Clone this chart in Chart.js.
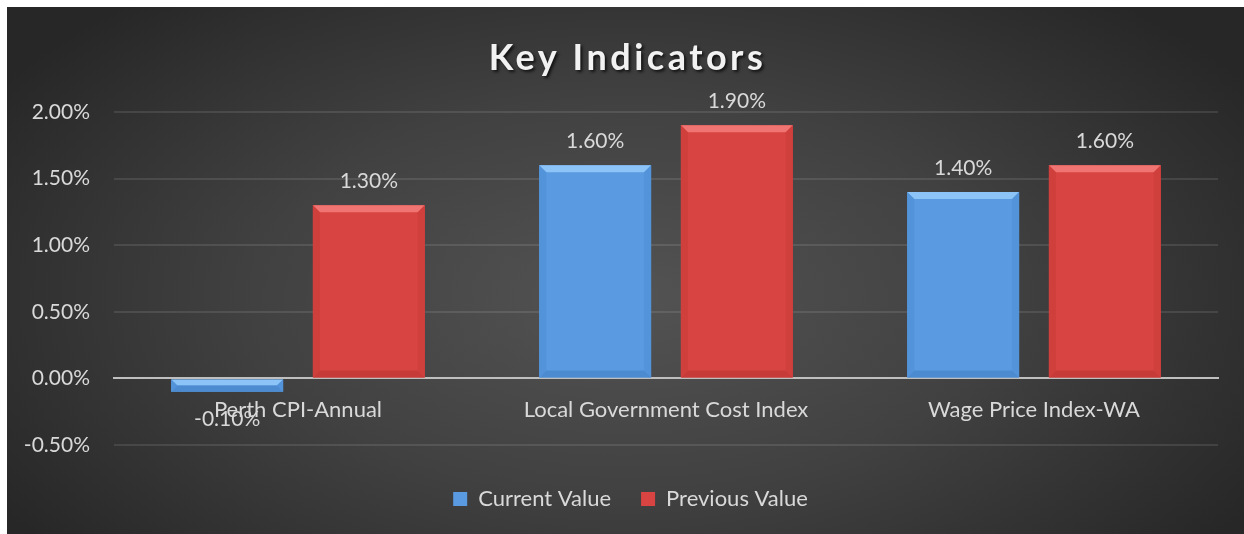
<!DOCTYPE html>
<html>
<head>
<meta charset="utf-8">
<script src="https://cdn.jsdelivr.net/npm/chart.js@4.4.1/dist/chart.umd.min.js"></script>
<style>
    body { margin: 0; background: #ffffff; }
    #wrap {
        position: absolute;
        left: 7px;
        top: 7px;
        width: 1237px;
        height: 527px;
        background: radial-gradient(ellipse 60% 75% at 50% 55%, #535353 0%, #414141 50%, #272727 100%);
    }
</style>
</head>
<body>
<div id="wrap"><canvas id="chart"></canvas></div>
<script>
const chartTitle = "Key Indicators";
const categories = ["Perth CPI-Annual", "Local Government Cost Index", "Wage Price Index-WA"];
const currentValue = [-0.1, 1.6, 1.4];
const previousValue = [1.3, 1.9, 1.6];
const yTicks = [-0.5, 0, 0.5, 1.0, 1.5, 2.0];

const textColor = "#d9d9d9";
const fontName = "Lato, 'Open Sans', sans-serif";

// bevel look on each bar, like the Excel style
const bevelPlugin = {
    id: "bevel",
    afterDatasetsDraw(chart){
        let ctx = chart.ctx;
        chart.data.datasets.forEach((ds, i) => {
            let meta = chart.getDatasetMeta(i);
            meta.data.forEach((bar) => {
                let p = bar.getProps(["x", "y", "base", "width"], true);
                let l = p.x - p.width / 2, r = p.x + p.width / 2;
                let t = Math.min(p.y, p.base), b = Math.max(p.y, p.base);
                let s = Math.min(7, (b - t) / 2);
                ctx.save();
                // top
                ctx.fillStyle = ds.bevelLight;
                ctx.beginPath();
                ctx.moveTo(l, t); ctx.lineTo(r, t); ctx.lineTo(r - s, t + s); ctx.lineTo(l + s, t + s);
                ctx.closePath(); ctx.fill();
                // bottom
                ctx.fillStyle = ds.bevelDark;
                ctx.beginPath();
                ctx.moveTo(l, b); ctx.lineTo(r, b); ctx.lineTo(r - s, b - s); ctx.lineTo(l + s, b - s);
                ctx.closePath(); ctx.fill();
                // sides
                ctx.fillStyle = ds.bevelSide;
                ctx.beginPath();
                ctx.moveTo(l, t); ctx.lineTo(l + s, t + s); ctx.lineTo(l + s, b - s); ctx.lineTo(l, b);
                ctx.closePath(); ctx.fill();
                ctx.beginPath();
                ctx.moveTo(r, t); ctx.lineTo(r - s, t + s); ctx.lineTo(r - s, b - s); ctx.lineTo(r, b);
                ctx.closePath(); ctx.fill();
                ctx.restore();
            });
        });
    }
};

// value labels over / under the bars
const valueLabels = {
    id: "valueLabels",
    afterDatasetsDraw(chart){
        let ctx = chart.ctx;
        ctx.save();
        ctx.font = "21px " + fontName;
        ctx.fillStyle = textColor;
        ctx.textAlign = "center";
        ctx.textBaseline = "middle";
        chart.data.datasets.forEach((ds, i) => {
            chart.getDatasetMeta(i).data.forEach((bar, j) => {
                let v = ds.data[j];
                let y = (v >= 0) ? bar.y - 24 : bar.y + 28;
                ctx.fillText(v.toFixed(2) + "%", bar.x, y);
            });
        });
        ctx.restore();
    }
};

// title with letter spacing and shadow
const titlePlugin = {
    id: "bigTitle",
    afterDraw(chart){
        let ctx = chart.ctx;
        ctx.save();
        ctx.font = "bold 36px " + fontName;
        ctx.letterSpacing = "3.5px";
        ctx.fillStyle = "#f2f2f2";
        ctx.textAlign = "center";
        ctx.textBaseline = "middle";
        ctx.shadowColor = "rgba(0,0,0,0.7)";
        ctx.shadowBlur = 3;
        ctx.shadowOffsetX = 2;
        ctx.shadowOffsetY = 2;
        ctx.fillText(chartTitle, chart.width / 2 + 2, 51);
        ctx.restore();
    }
};

// legend sits a bit right of the plot centre in the original
const legendShift = {
    id: "legendShift",
    afterLayout(chart){
        if(chart.legend){
            chart.legend.left += 18;
            chart.legend.right += 18;
        }
    }
};

let chart = new Chart("chart", {
    type: "bar",
    data: {
        labels: categories,
        datasets: [
            {
                label: "Current Value",
                data: currentValue,
                backgroundColor: "#5a9ae0",
                bevelLight: "#8cc4f7",
                bevelSide: "#5393da",
                bevelDark: "#4d8bd0",
                categoryPercentage: 0.77,
                barPercentage: 0.79,
            },
            {
                label: "Previous Value",
                data: previousValue,
                backgroundColor: "#d84441",
                bevelLight: "#f07471",
                bevelSide: "#cf3f3c",
                bevelDark: "#c63b38",
                categoryPercentage: 0.77,
                barPercentage: 0.79,
            },
        ],
    },
    plugins: [bevelPlugin, valueLabels, titlePlugin, legendShift],
    options: {
        responsive: true,
        maintainAspectRatio: false,
        animation: false,
        layout: {
            padding: { top: 105, right: 26, bottom: 14, left: 0 },
        },
        scales: {
            x: {
                position: { y: 0 },
                grid: { display: false },
                border: { color: "#bfbfbf", width: 2 },
                ticks: {
                    color: textColor,
                    font: { size: 22, family: fontName },
                    padding: 10,
                },
            },
            spacer: {
                type: "category",
                position: "bottom",
                grid: { display: false },
                border: { display: false },
                ticks: { display: false },
                afterFit: (s) => { s.height = 13; },
            },
            y: {
                min: -0.5,
                max: 2.0,
                afterBuildTicks: (s) => { s.ticks = yTicks.map((v) => { return { value: v }; }); },
                afterFit: (s) => { s.width = 107; },
                grid: {
                    color: "rgba(255,255,255,0.1)",
                    lineWidth: 2,
                    drawTicks: false,
                },
                border: { display: false },
                ticks: {
                    color: textColor,
                    font: { size: 21, family: fontName },
                    padding: 24,
                    callback: (v) => { return v.toFixed(2) + "%"; },
                },
            },
        },
        plugins: {
            legend: {
                position: "bottom",
                labels: {
                    color: textColor,
                    font: { size: 22, family: fontName },
                    boxWidth: 14,
                    boxHeight: 14,
                    padding: 30,
                },
            },
            tooltip: { enabled: false },
        },
    },
});
</script>
</body>
</html>
